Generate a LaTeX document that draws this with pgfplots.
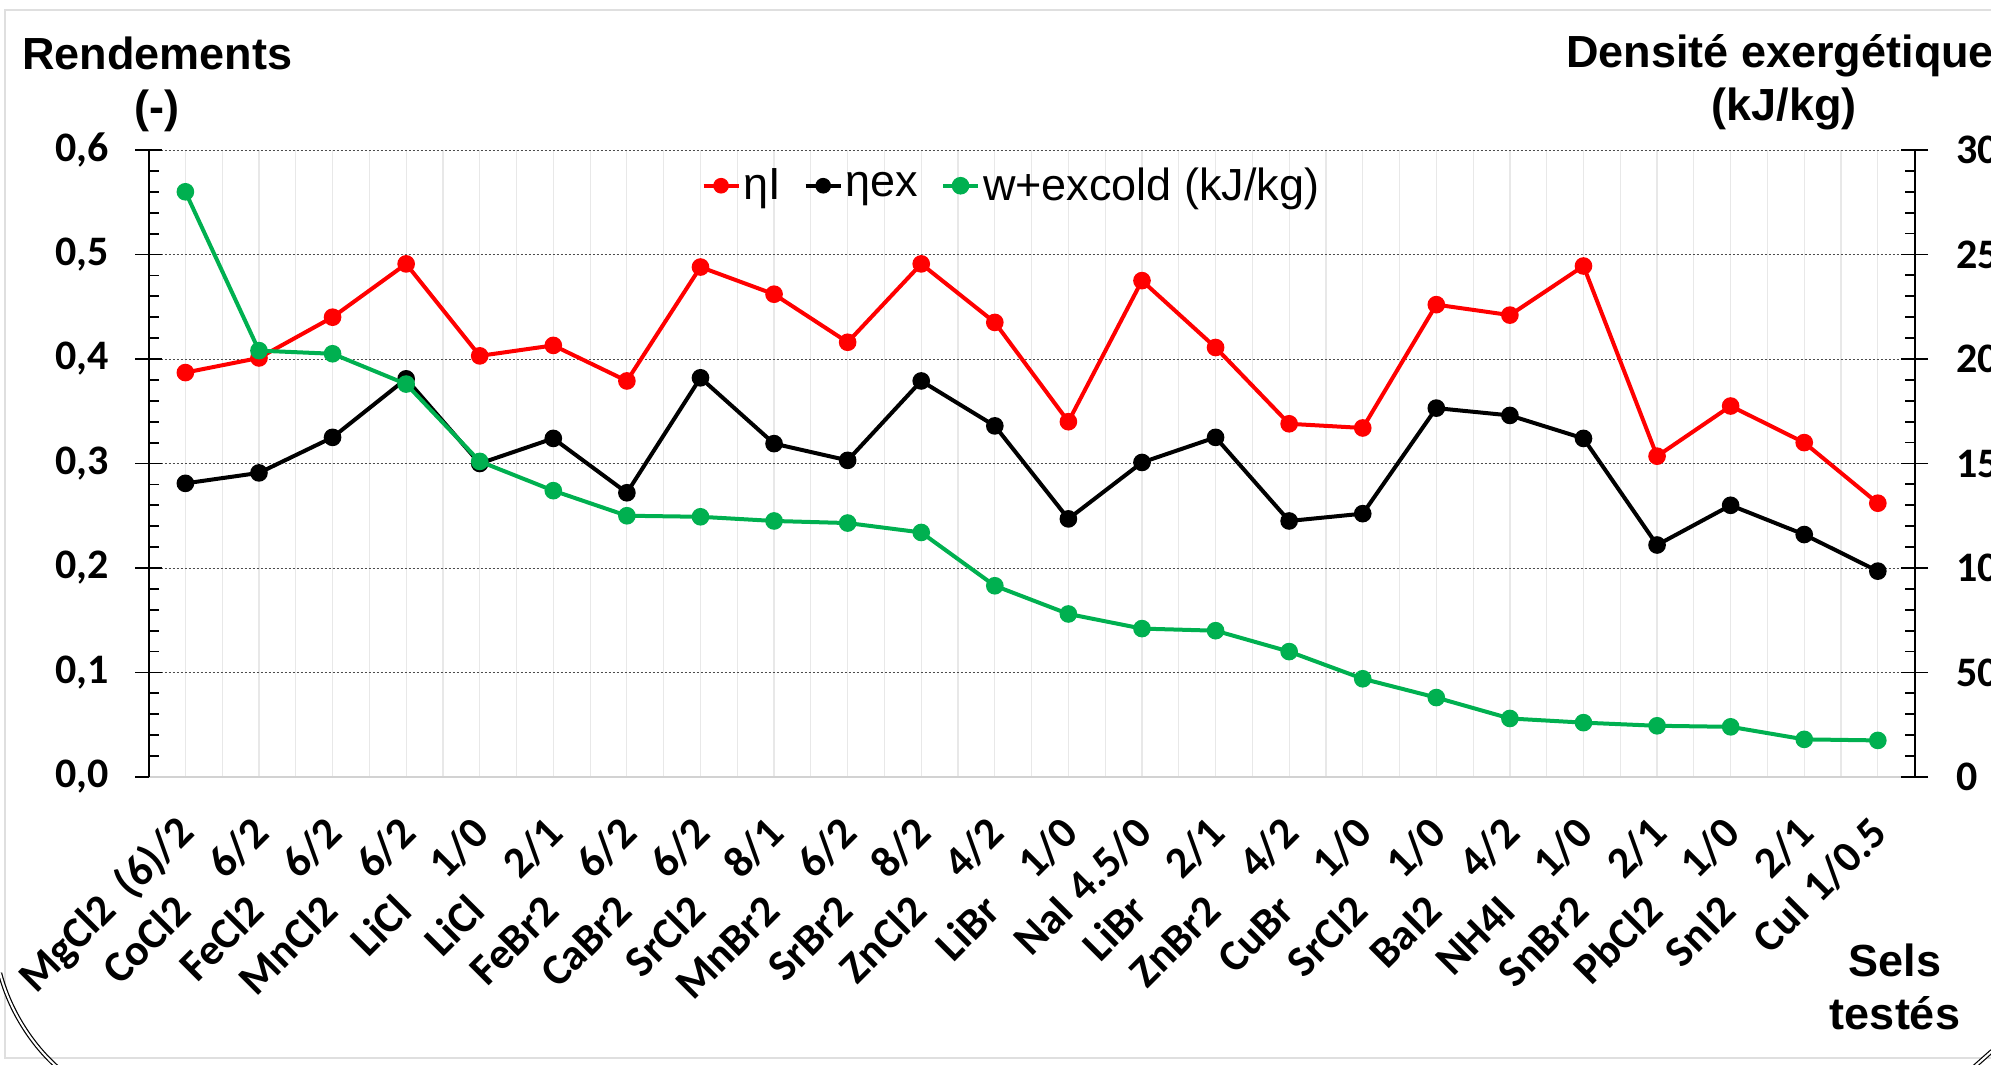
\documentclass[border=0pt]{standalone}
\usepackage{fontspec}
\setmainfont{Liberation Sans}
\newfontfamily\calfont{Carlito}
\usepackage{pgfplots}
\usepackage{pgfplotstable}
\pgfplotsset{compat=1.18}

\definecolor{exred}{RGB}{255,0,0}
\definecolor{exgreen}{RGB}{0,176,80}

\newcommand{\ticklab}{\fontsize{21}{25}\selectfont\calfont\bfseries}
\newcommand{\xlab}{\fontsize{22}{26}\selectfont\calfont\bfseries}
\newcommand{\titlefont}{\fontsize{22.5}{27}\selectfont\bfseries}
\newcommand{\legfont}{\fontsize{22.5}{27}\selectfont}
\newcommand{\cl}[2]{\makebox[2.7em][r]{#1}\hspace{0.25em}\makebox[2.25em][r]{#2}}

\pgfplotstableread{
idx eta etaex w
0  0.387 0.281 280
1  0.401 0.291 204
2  0.440 0.325 202.5
3  0.491 0.381 188
4  0.403 0.300 151
5  0.413 0.324 137
6  0.379 0.272 125
7  0.488 0.382 124.5
8  0.462 0.319 122.5
9  0.416 0.303 121.5
10 0.491 0.379 117
11 0.435 0.336 91.5
12 0.340 0.247 78
13 0.475 0.301 71
14 0.411 0.325 70
15 0.338 0.245 60
16 0.334 0.252 47
17 0.452 0.353 38
18 0.442 0.346 28
19 0.489 0.324 26
20 0.307 0.222 24.5
21 0.355 0.260 24
22 0.320 0.232 18
23 0.262 0.197 17.5
}\datatable

\pgfplotsset{
  common/.style={
    at={(74.3pt,144pt)}, anchor=south west,
    scale only axis, width=883pt, height=313.5pt,
    xmin=-0.5, xmax=23.5,
    tick align=center,
    major tick length=13.5pt,
    minor tick length=5pt,
    /pgf/number format/assume math mode=true,
    every axis plot/.append style={line width=2pt, mark=*, mark size=3.4pt, mark options={solid}},
  },
}

\begin{document}
\begin{tikzpicture}
% frame
\draw[gray!25, line width=1pt] (1000pt,527.5pt) -- (2.25pt,527.5pt) -- (2.25pt,3.5pt) -- (1000pt,3.5pt);
\draw[black, double, double distance=1pt, line width=0.6pt] (0pt,46pt) .. controls (4pt,30pt) and (14pt,12pt) .. (28.5pt,-1pt);
\draw[black, double, double distance=1pt, line width=0.6pt] (987pt,-1pt) -- (996pt,7pt);

\begin{axis}[common,
  ymin=0, ymax=0.6,
  axis y line*=left, axis x line*=bottom,
  xtick={0,...,23},
  minor x tick num=1,
  xmajorgrids, xminorgrids, ymajorgrids,
  major x grid style={gray!18, line width=0.6pt},
  minor x grid style={gray!18, line width=0.6pt},
  major y grid style={black!70, line width=0.5pt, dash pattern=on 1.2pt off 0.8pt},
  major x tick style={draw=none},
  minor x tick style={draw=none},
  x axis line style={gray!35, line width=1pt},
  y axis line style={black, line width=1pt},
  major y tick style={black, line width=0.9pt},
  minor y tick style={black, line width=0.9pt, xshift=2.5pt},
  ytick={0,0.1,0.2,0.3,0.4,0.5,0.6},
  minor y tick num=4,
  yticklabel style={font=\ticklab, anchor=east, inner sep=0pt, xshift=-13pt,
    /pgf/number format/.cd, fixed, fixed zerofill, precision=1, use comma},
  xticklabel style={font=\xlab, inner sep=0pt, xshift=1pt, yshift=-17.5pt, rotate=45, anchor=east},
  xticklabels={{\cl{MgCl2}{(6)/2}},{\cl{CoCl2}{6/2}},{\cl{FeCl2}{6/2}},{\cl{MnCl2}{6/2}},
    {\cl{LiCl}{1/0}},{\cl{LiCl}{2/1}},{\cl{FeBr2}{6/2}},{\cl{CaBr2}{6/2}},
    {\cl{SrCl2}{8/1}},{\cl{MnBr2}{6/2}},{\cl{SrBr2}{8/2}},{\cl{ZnCl2}{4/2}},
    {\cl{LiBr}{1/0}},{\cl{NaI}{4.5/0}},{\cl{LiBr}{2/1}},{\cl{ZnBr2}{4/2}},
    {\cl{CuBr}{1/0}},{\cl{SrCl2}{1/0}},{\cl{BaI2}{4/2}},{\cl{NH4I}{1/0}},
    {\cl{SnBr2}{2/1}},{\cl{PbCl2}{1/0}},{\cl{SnI2}{2/1}},{\cl{CuI}{1/0.5}}},
]
\addplot[exred] table[x=idx,y=eta]{\datatable};
\addplot[black] table[x=idx,y=etaex]{\datatable};
\end{axis}

\begin{axis}[common,
  ymin=0, ymax=300,
  axis y line*=right, axis x line=none,
  y axis line style={black, line width=1pt},
  major y tick style={black, line width=0.9pt},
  minor y tick style={black, line width=0.9pt, xshift=-2.5pt},
  ytick={0,50,100,150,200,250,300},
  minor y tick num=4,
  yticklabel style={font=\ticklab, anchor=west, inner sep=0pt, xshift=14pt},
  legend style={at={(0.313,0.943)}, anchor=west, draw=none, fill=none,
    font=\legfont, legend columns=-1, inner sep=0pt,
    nodes={inner sep=1.5pt},
    /tikz/every even column/.append style={column sep=10pt}},
  legend image code/.code={\draw[mark repeat=2, mark phase=2, #1] plot coordinates {(0pt,0pt) (8.75pt,0pt) (17.5pt,0pt)};},
]
\addlegendimage{exred, line width=1.8pt, mark=*, mark size=3pt}
\addlegendentry{ηI}
\addlegendimage{black, line width=1.8pt, mark=*, mark size=3pt}
\addlegendentry{ηex}
\addplot[exgreen] table[x=idx,y=w]{\datatable};
\addlegendentry{w+excold (kJ/kg)}
\end{axis}

\node[anchor=base west, font=\titlefont, inner sep=0pt] at (11pt,497.5pt) {Rendements};
\node[font=\titlefont, inner sep=0pt] at (78.5pt,477pt) {(-)};
\node[anchor=base west, font=\titlefont, inner sep=0pt] at (783pt,498.5pt) {Densité exergétique};
\node[font=\titlefont, inner sep=0pt] at (892pt,478pt) {(kJ/kg)};
\node[anchor=base, font=\titlefont, inner sep=0pt] at (947.5pt,44pt) {Sels};
\node[anchor=base, font=\titlefont, inner sep=0pt] at (947.5pt,17.5pt) {testés};

\pgfresetboundingbox
\path[use as bounding box] (0pt,0pt) rectangle (995.5pt,532.5pt);
\end{tikzpicture}
\end{document}
